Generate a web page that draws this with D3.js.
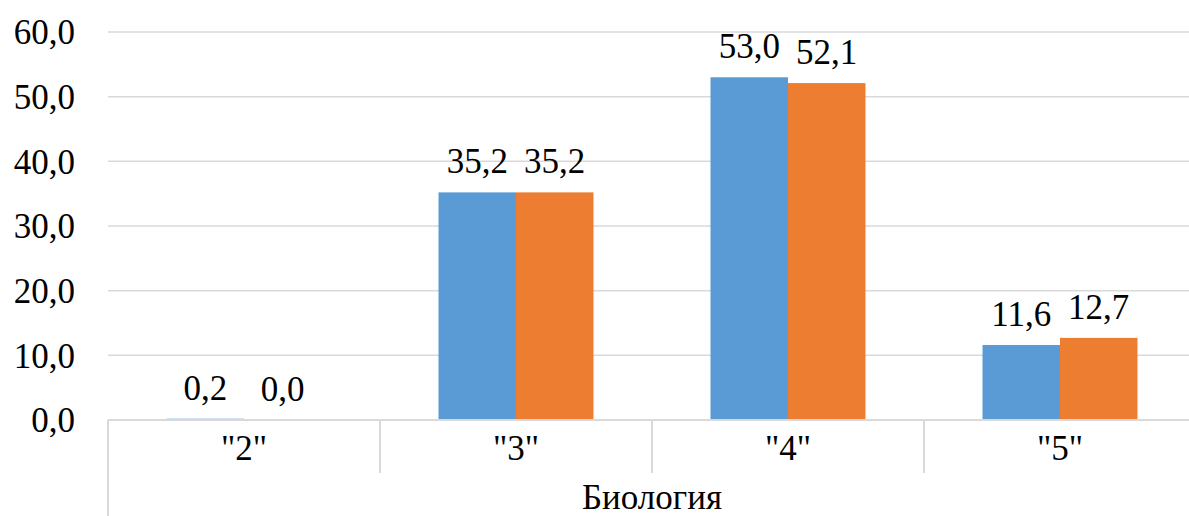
<!DOCTYPE html>
<html><head><meta charset="utf-8">
<script src="https://cdn.jsdelivr.net/npm/d3@7"></script>
<style>body{margin:0;background:#fff}</style>
</head><body><svg id="c" width="1189" height="516"></svg>
<script>
const categories = ['"2"', '"3"', '"4"', '"5"'];
const groupLabel = "Биология";
const series1 = [0.2, 35.2, 53.0, 11.6];
const series2 = [0.0, 35.2, 52.1, 12.7];
const yTicks = [0, 10, 20, 30, 40, 50, 60];
const colors = ["#5B9BD5", "#ED7D31"];

const svg = d3.select("#c");
const mLeft = 108, mRight = 1196, mTop = 32, mBottom = 420;
const fmt = v => d3.format(".1f")(v).replace(".", ",");

const y = d3.scaleLinear().domain([0, 60]).range([mBottom, mTop]);
const x = d3.scaleBand().domain(categories).range([mLeft, mRight]).paddingInner(0).paddingOuter(0);
const inner = d3.scaleBand().domain([0, 1]).range([0, x.bandwidth()]).paddingOuter(0.755).paddingInner(0);

function lbl(sel) {
  return sel.attr("font-size", 35).style("font-family", '"Liberation Serif"').attr("fill", "#000");
}

svg.append("g").selectAll("line").data(yTicks.filter(t => t > 0)).join("line")
  .attr("x1", mLeft).attr("x2", mRight).attr("y1", d => y(d)).attr("y2", d => y(d))
  .attr("stroke", "#D9D9D9").attr("stroke-width", 1.5);

lbl(svg.append("g").selectAll("text").data(yTicks).join("text")
  .attr("x", 75).attr("y", d => y(d)).attr("dy", "0.35em")
  .attr("text-anchor", "end")).text(fmt);

const data = categories.map((c, i) => [series1[i], series2[i]]);
const g = svg.append("g").selectAll("g").data(data).join("g")
  .attr("transform", (d, i) => `translate(${x(categories[i])},0)`);
g.selectAll("rect").data(d => d).join("rect")
  .attr("x", (d, j) => inner(j)).attr("width", inner.bandwidth())
  .attr("y", d => y(d)).attr("height", d => y(0) - y(d))
  .attr("fill", (d, j) => colors[j]);
lbl(g.selectAll("text").data(d => d).join("text")
  .attr("x", (d, j) => inner(j) + inner.bandwidth() / 2)
  .attr("y", d => y(d) - 19)
  .attr("text-anchor", "middle")).text(fmt);

svg.append("line").attr("x1", mLeft).attr("x2", mRight).attr("y1", mBottom).attr("y2", mBottom)
  .attr("stroke", "#D9D9D9").attr("stroke-width", 2);
svg.append("g").selectAll("line").data(categories.slice(1)).join("line")
  .attr("x1", d => x(d)).attr("x2", d => x(d)).attr("y1", mBottom).attr("y2", 473)
  .attr("stroke", "#D9D9D9").attr("stroke-width", 2);
svg.append("line").attr("x1", mLeft).attr("x2", mLeft).attr("y1", mBottom).attr("y2", 516)
  .attr("stroke", "#D9D9D9").attr("stroke-width", 2);

lbl(svg.append("g").selectAll("text").data(categories).join("text")
  .attr("x", d => x(d) + x.bandwidth() / 2).attr("y", 460)
  .attr("text-anchor", "middle")).text(d => d);
lbl(svg.append("text").attr("x", (mLeft + mRight) / 2).attr("y", 509)
  .attr("text-anchor", "middle")).text(groupLabel);
</script></body></html>
